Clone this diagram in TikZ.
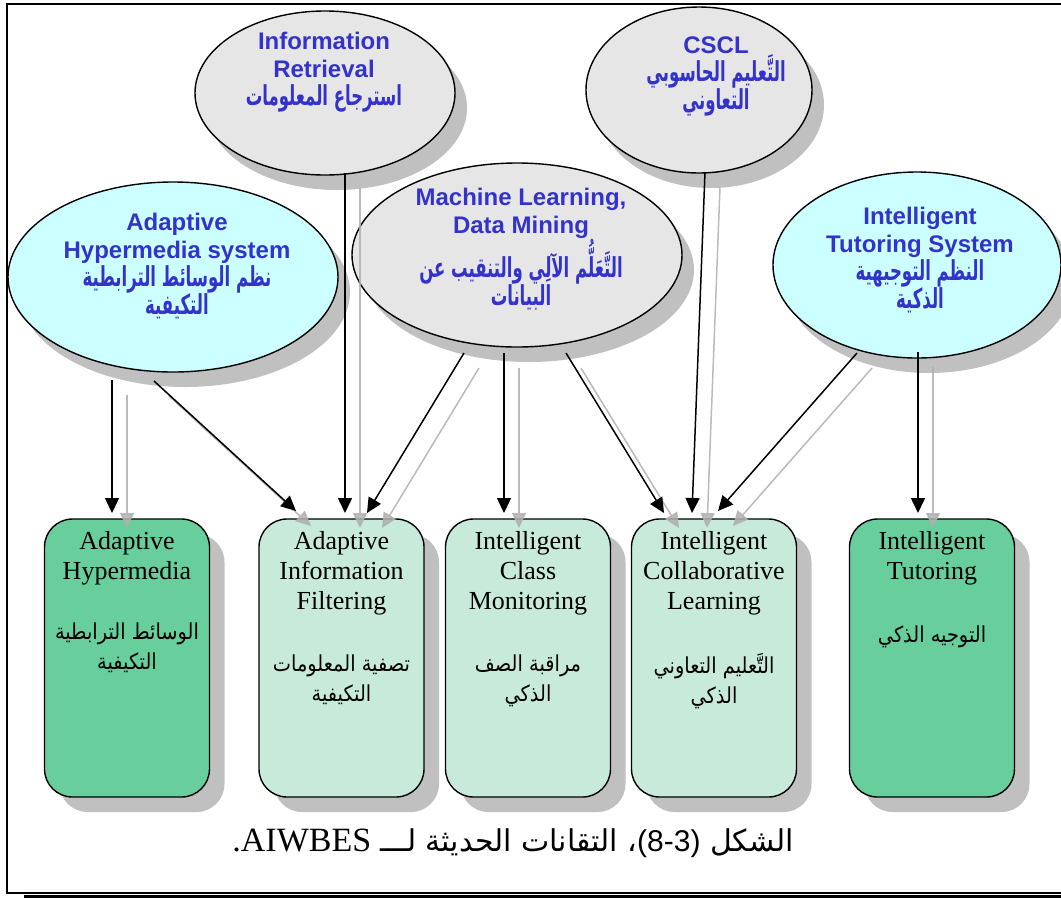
\documentclass[tikz,border=0pt]{standalone}
\usepackage{fontspec}
\setmainfont{Liberation Serif}
\setsansfont{Liberation Sans}
\newfontfamily\arabicfont[Script=Arabic]{DejaVu Sans}
\newfontfamily\arabicnarrow[Script=Arabic,FakeStretch=0.6]{DejaVu Sans Bold}
\newfontfamily\arabicbox[Script=Arabic,FakeStretch=0.88]{DejaVu Sans}
\TeXXeTstate=1
\usetikzlibrary{shapes.geometric,shadows,arrows.meta,calc}

\definecolor{etxt}{RGB}{51,51,204}
\definecolor{cyanfill}{RGB}{204,255,255}
\definecolor{greyfill}{RGB}{230,230,230}
\definecolor{darkgr}{RGB}{104,206,156}
\definecolor{lightgr}{RGB}{199,234,218}
\definecolor{shade}{RGB}{192,192,192}
\definecolor{arrgray}{RGB}{176,176,176}

\newcommand{\ar}[1]{{\arabicnarrow\fontsize{27.5}{28}\selectfont\beginR #1\endR}}

\tikzset{
  bubble/.style={ellipse, draw, line width=1.4pt, inner sep=0pt,
    drop shadow={shadow xshift=12pt, shadow yshift=-15pt, fill=shade, opacity=1}},
  etext/.style={align=center, text=etxt, inner sep=0pt,
    font=\sffamily\bfseries\fontsize{24}{28}\selectfont},
  panel/.style={rectangle, rounded corners=28pt, draw, line width=1.4pt,
    minimum width=165pt, minimum height=278pt, inner sep=0pt,
    drop shadow={shadow xshift=15pt, shadow yshift=-15pt, fill=shade, opacity=1}},
  btext/.style={align=center, inner sep=0pt, font=\rmfamily\fontsize{26}{30}\selectfont},
  atext/.style={align=center, inner sep=0pt, font=\arabicbox\fontsize{22}{30}\selectfont},
  link/.style={line width=1.5pt, -{Triangle[length=15pt,width=14pt]}},
  linkshade/.style={line width=1.5pt, draw=arrgray, fill=arrgray, opacity=0.85,
    -{Triangle[length=15pt,width=14pt]}},
  caption/.style={inner sep=0pt, font=\arabicfont\fontsize{30}{36}\selectfont}
}

\begin{document}
\begin{tikzpicture}[x=1pt,y=-1pt]
\useasboundingbox (0,0) rectangle (1061,898);

% outer frame with its shadow
\draw[shade, line width=3pt] (24,896.5) -- (1075,896.5);
\draw[line width=1.6pt] (7,4) rectangle (1075,893);

% source fields
\node[bubble, fill=greyfill, minimum width=260pt, minimum height=164pt] (eIR) at (325,93) {};
\node[bubble, fill=greyfill, minimum width=226pt, minimum height=166pt] (eCS) at (699,90) {};
\node[bubble, fill=cyanfill, minimum width=330pt, minimum height=190pt] (eAH) at (173,277) {};
\node[bubble, fill=greyfill, minimum width=330pt, minimum height=184pt] (eML) at (517,255) {};
\node[bubble, fill=cyanfill, minimum width=288pt, minimum height=186pt] (eIT) at (917,265) {};

\node[etext] (tIR) at (324,72) {Information\\Retrieval\\\ar{استرجاع المعلومات}};
\node[etext] (tCS) at (716,76) {CSCL\\\ar{التَّعليم الحاسوبي}\\\ar{التعاوني}};
\node[etext] (tAH) at (177,266) {Adaptive\\Hypermedia system\\\ar{نظم الوسائط الترابطية}\\\ar{التكيفية}};
\node[etext] (tML) at (521,249) {Machine Learning,\\Data Mining\\\ar{التَّعَلُّم الآلِي والتنقيب عن}\\\ar{البيانات}};
\node[etext] (tIT) at (920,260) {Intelligent\\Tutoring System\\\ar{النظم التوجيهية}\\\ar{الذكية}};

% resulting techniques
\node[panel, fill=darkgr]  (bAH) at (127,658) {};
\node[panel, fill=lightgr] (bIF) at (341.5,658) {};
\node[panel, fill=lightgr] (bCM) at (528,658) {};
\node[panel, fill=lightgr] (bCL) at (714,658) {};
\node[panel, fill=darkgr]  (bIT) at (932,658) {};

\node[btext] (nAH) at (127,558) {Adaptive\\Hypermedia};
\node[btext] (nIF) at (341.5,573) {Adaptive\\Information\\Filtering};
\node[btext] (nCM) at (528,573) {Intelligent\\Class\\Monitoring};
\node[btext] (nCL) at (714,573) {Intelligent\\Collaborative\\Learning};
\node[btext] (nIT) at (932,558) {Intelligent\\Tutoring};

\node[atext] (aAH) at (127,648) {\beginR الوسائط الترابطية\endR\\\beginR التكيفية\endR};
\node[atext] (aIF) at (341.5,680) {\beginR تصفية المعلومات\endR\\\beginR التكيفية\endR};
\node[atext] (aCM) at (528,681) {\beginR مراقبة الصف\endR\\\beginR الذكي\endR};
\node[atext] (aCL) at (714,681) {\beginR التَّعليم التعاوني\endR\\\beginR الذكي\endR};
\node[atext] (aIT) at (932,637) {\beginR التوجيه الذكي\endR};

% connector end points
\coordinate (s1) at (112,380);  \coordinate (t1) at (112,513);
\coordinate (s2) at (154,381);  \coordinate (t2) at (296,511);
\coordinate (s3) at (345,173);  \coordinate (t3) at (345,513);
\coordinate (s4) at (464,353);  \coordinate (t4) at (367,513);
\coordinate (s5) at (504,353);  \coordinate (t5) at (504,513);
\coordinate (s6) at (566,353);  \coordinate (t6) at (664,513);
\coordinate (s7) at (705,172);  \coordinate (t7) at (692,513);
\coordinate (s8) at (857,353);  \coordinate (t8) at (718,511);
\coordinate (s9) at (918,352);  \coordinate (t9) at (918,513);

% shadow copies of the connectors
\foreach \i in {1,...,9}{
  \draw[linkshade] ($(s\i)+(15,15)$) -- ($(t\i)+(15,15)$);
}
% connectors
\foreach \i in {1,...,9}{
  \draw[link] (s\i) -- (t\i);
}

% caption, pieces set in their visual order
\node[caption] (cap) at (513,843) {{\rmfamily\fontsize{34}{40}\selectfont .AIWBES} {\beginR ، التقانات الحديثة لـــ\endR}{\sffamily(8-3)} {\beginR الشكل\endR}};
\end{tikzpicture}
\end{document}
